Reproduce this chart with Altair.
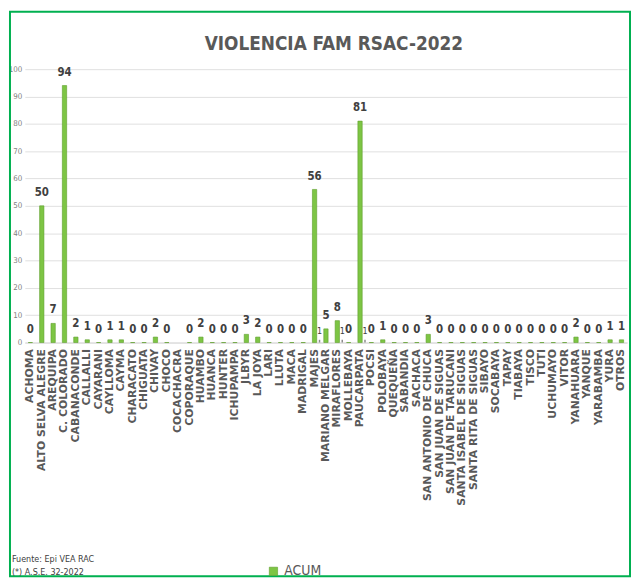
import altair as alt
import pandas as pd

categorias = ["ACHOMA", "ALTO SELVA ALEGRE", "AREQUIPA", "C. COLORADO", "CABANACONDE",
              "CALLALLI", "CAYARANI", "CAYLLOMA", "CAYMA", "CHARACATO", "CHIGUATA",
              "CHIVAY", "CHOCO", "COCACHACRA", "COPORAQUE", "HUAMBO", "HUANCA", "HUNTER",
              "ICHUPAMPA", "JLBYR", "LA JOYA", "LARI", "LLUTA", "MACA", "MADRIGAL", "MAJES",
              "MARIANO MELGAR", "MIRAFLORES", "MOLLEBAYA", "PAUCARPATA", "POCSI", "POLOBAYA",
              "QUEQUEÑA", "SABANDIA", "SACHACA", "SAN ANTONIO DE CHUCA", "SAN JUAN DE SIGUAS",
              "SAN JUAN DE TARUCANI", "SANTA ISABEL DE SIGUAS", "SANTA RITA DE SIGUAS",
              "SIBAYO", "SOCABAYA", "TAPAY", "TIABAYA", "TISCO", "TUTI", "UCHUMAYO", "VITOR",
              "YANAHUARA", "YANQUE", "YARABAMBA", "YURA", "OTROS"]
acum = [0, 50, 7, 94, 2, 1, 0, 1, 1, 0, 0, 2, 0, None, 0, 2, 0, 0, 0, 3, 2, 0, 0, 0, 0, 56,
        5, 8, 0, 81, 0, 1, 0, 0, 0, 3, 0, 0, 0, 0, 0, 0, 0, 0, 0, 0, 0, 0, 2, 0, 0, 1, 1]
sem_cats = ["MAJES", "MIRAFLORES", "PAUCARPATA"]
sem_vals = [1, 1, 1]
nota1 = "Fuente: Epi VEA RAC"
nota2 = "(*) A.S.E. 32-2022"
titulo = "VIOLENCIA FAM RSAC-2022"
y_ticks = [0, 10, 20, 30, 40, 50, 60, 70, 80, 90, 100]

df = pd.DataFrame({"cat": categorias, "v": acum, "serie": ["ACUM"] * len(categorias)})
df_sem = pd.DataFrame({"cat": sem_cats, "v": sem_vals})

W, H = 608, 276
COND = "DejaVu Sans Condensed, Liberation Sans Narrow, Liberation Sans, sans-serif"

xaxis = alt.Axis(labelAngle=-90, labelFont="DejaVu Sans", labelFontWeight="bold",
                 labelFontSize=11, labelColor="#595959", labelPadding=6,
                 ticks=False, domainColor="#d9d9d9", labelOverlap=False,
                 labelBaseline="middle")
xscale = alt.Scale(paddingInner=0.62, paddingOuter=0.3)
yaxis = alt.Axis(values=y_ticks, tickCount=11, labelFont=COND, labelFontSize=8,
                 labelColor="#808080", ticks=False, domain=False, labelOverlap=False,
                 gridColor="#e0e0e0", labelPadding=3)
yscale = alt.Scale(domain=[0, 100], nice=False)

def xe():
    return alt.X("cat:N", sort=categorias, title=None, scale=xscale, axis=xaxis)

def ye():
    return alt.Y("v:Q", title=None, scale=yscale, axis=yaxis)

base = alt.Chart(df)

bars = base.mark_bar(stroke="#5e9f2c", strokeWidth=0.6).encode(
    x=xe(), y=ye(),
    color=alt.Color("serie:N", scale=alt.Scale(domain=["ACUM"], range=["#7dc544"]),
                    legend=alt.Legend(title=None, orient="none", legendX=244, legendY=H + 224,
                                      symbolType="square", symbolSize=70,
                                      labelFont=COND, labelFontSize=14, labelColor="#595959",
                                      symbolStrokeColor="#5e9f2c", symbolStrokeWidth=0.6)))

labels = base.transform_filter("isValid(datum.v)").mark_text(
    dy=-8, baseline="bottom", font=COND, fontWeight="bold", fontSize=11.5, color="#404040"
).encode(x=xe(), y=ye(), text="v:Q")

sem_bars = alt.Chart(df_sem).mark_bar(xOffset=5, width=1.5, color="#8c8c8c").encode(
    x=xe(), y=ye())
sem_labels = alt.Chart(df_sem).mark_text(
    dx=5, dy=-4, baseline="bottom", font=COND, fontSize=9, color="#404040"
).encode(x=xe(), y=ye(), text="v:Q")

one = pd.DataFrame({"a": [0]})
border = alt.Chart(one).mark_rect(
    fill=None, stroke="#00b050", strokeWidth=2).encode(
    x=alt.value(-15), x2=alt.value(W + 3), y=alt.value(-58), y2=alt.value(H + 236))

note_a = alt.Chart(one).mark_text(
    text=nota1, align="left", baseline="middle", font=COND, fontSize=9, color="#404040"
).encode(x=alt.value(-13), y=alt.value(H + 219))
note_b = alt.Chart(one).mark_text(
    text=nota2, align="left", baseline="middle", font=COND, fontSize=9, color="#404040"
).encode(x=alt.value(-13), y=alt.value(H + 232))

title = alt.Chart(one).mark_text(
    text=titulo, align="center", baseline="alphabetic", font=COND, fontWeight="bold",
    fontSize=19, color="#595959").encode(x=alt.value(W / 2 + 8), y=alt.value(-19))

chart = alt.layer(border, bars, sem_bars, labels, sem_labels, note_a, note_b, title).properties(
    width=W, height=H, padding=0
).configure_view(stroke=None).configure_axis(labelLimit=400)

chart.save("out.html", embed_options={"renderer": "svg", "actions": False})
